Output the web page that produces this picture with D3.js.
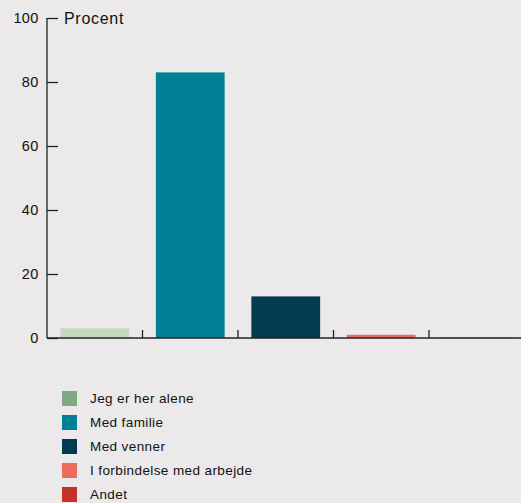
<!DOCTYPE html>
<html>
<head>
<meta charset="utf-8">
<script src="https://cdn.jsdelivr.net/npm/d3@7"></script>
<style>
  html, body { margin: 0; padding: 0; background: #ebe9ea; }
  svg { display: block; font-family: "Liberation Sans", Arial, sans-serif; }
</style>
</head>
<body>
<svg id="chart"></svg>
<script>
// Data
const categories = ["Jeg er her alene", "Med familie", "Med venner", "I forbindelse med arbejde", "Andet"];
const values = [3, 83, 13, 1, 0.1];
const barColors = ["#c3d9c0", "#008095", "#023a4f", "#ec6b5e", "#c5302b"];
const legendColors = ["#7fa97f", "#008095", "#023a4f", "#ec6b5e", "#c5302b"];
const yTicks = [0, 20, 40, 60, 80, 100];

const width = 521;
const height = 503;

const svg = d3.select("#chart")
    .attr("width", width)
    .attr("height", height);

// Scales
const x = d3.scaleBand()
    .domain(categories)
    .range([47, 524.5])
    .paddingInner(0.28)
    .paddingOuter(0.14);

const y = d3.scaleLinear()
    .domain([0, 100])
    .range([338, 18]);

// Bars
svg.selectAll("rect.bar")
    .data(categories)
    .join("rect")
    .attr("class", "bar")
    .attr("x", d => x(d))
    .attr("width", x.bandwidth())
    .attr("y", (d, i) => y(values[i]))
    .attr("height", (d, i) => y(0) - y(values[i]))
    .attr("fill", (d, i) => barColors[i]);

// Y axis
const yAxis = svg.append("g")
    .attr("transform", "translate(47,0)")
    .call(d3.axisRight(y).tickValues(yTicks).tickSize(11).tickFormat(""));
yAxis.select(".domain").attr("d", `M0,${y(100)}V${y(0)}`).attr("stroke", "#222").attr("stroke-width", 1.3);
yAxis.selectAll(".tick line").attr("stroke", "#222").attr("stroke-width", 1.3);

svg.selectAll("text.ylab")
    .data(yTicks)
    .join("text")
    .attr("class", "ylab")
    .attr("x", 38.5)
    .attr("y", d => y(d))
    .attr("dy", "0.36em")
    .attr("text-anchor", "end")
    .attr("font-size", 14.5)
    .attr("letter-spacing", 0.3)
    .attr("fill", "#111")
    .text(d => d);

svg.append("text")
    .attr("x", 64)
    .attr("y", y(100))
    .attr("dy", "0.36em")
    .attr("font-size", 16)
    .attr("letter-spacing", 0.7)
    .attr("fill", "#111")
    .text("Procent");

// X baseline and category separators
svg.append("line")
    .attr("x1", 47).attr("x2", width)
    .attr("y1", y(0)).attr("y2", y(0))
    .attr("stroke", "#222")
    .attr("stroke-width", 1.5);

svg.selectAll("line.sep")
    .data(categories.slice(1))
    .join("line")
    .attr("class", "sep")
    .attr("x1", d => x(d) - x.step() * x.paddingInner() / 2)
    .attr("x2", d => x(d) - x.step() * x.paddingInner() / 2)
    .attr("y1", y(0) - 8)
    .attr("y2", y(0))
    .attr("stroke", "#222")
    .attr("stroke-width", 1.3);

// Legend
const legend = svg.selectAll("g.legend")
    .data(categories)
    .join("g")
    .attr("class", "legend")
    .attr("transform", (d, i) => `translate(62,${391 + i * 24})`);

legend.append("rect")
    .attr("width", 15)
    .attr("height", 15)
    .attr("fill", (d, i) => legendColors[i]);

legend.append("text")
    .attr("x", 28)
    .attr("y", 7.5)
    .attr("dy", "0.36em")
    .attr("font-size", 13.5)
    .attr("letter-spacing", 0.4)
    .attr("fill", "#111")
    .text(d => d);
</script>
</body>
</html>
